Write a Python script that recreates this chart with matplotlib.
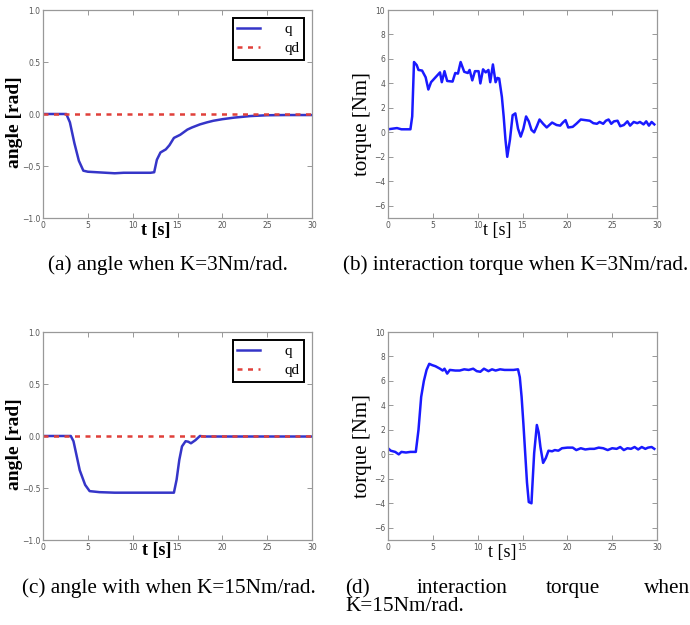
import matplotlib
matplotlib.use("Agg")
import matplotlib.pyplot as plt
import numpy as np

# ---------------- data ----------------
# (a) angle, K=3 Nm/rad
t_a = [0, 1, 2, 2.6, 3.0, 3.5, 4.0, 4.5, 5.0, 6.0, 7.0, 8.0, 9.0, 10.0, 11.0, 12.0, 12.4,
       12.7, 13.1, 13.7, 14.1, 14.6, 15.3, 16.1, 16.6, 17.5, 18.3, 19.0, 20.0, 21.3, 23.1, 25.0, 27.0, 30.0]
q_a = [0, 0, 0, 0, -0.08, -0.28, -0.45, -0.545, -0.555, -0.56, -0.565, -0.57, -0.565, -0.565, -0.565, -0.565, -0.56,
       -0.44, -0.37, -0.34, -0.30, -0.23, -0.20, -0.15, -0.13, -0.10, -0.08, -0.065, -0.05, -0.035, -0.02, -0.012, -0.01, -0.01]
qd_a = [0.0, 0.0]
t_qd = [0, 30]

# (b) torque, K=3 Nm/rad
t_b = [0, 0.5, 1, 1.5, 2, 2.5, 2.7, 2.9, 3.2, 3.4, 3.8, 4.2, 4.5, 4.8, 5.3, 5.8, 6.0, 6.3, 6.6, 7.2, 7.5,
       7.8, 8.1, 8.5, 8.9, 9.1, 9.4, 9.7, 10.1, 10.3, 10.6, 10.9, 11.2, 11.4, 11.7, 12.0, 12.2, 12.4, 12.7,
       12.9, 13.1, 13.3, 13.6, 13.9, 14.2, 14.5, 14.8, 15.1, 15.4, 15.7, 16.0, 16.3, 16.6, 16.9, 17.3, 17.7,
       18.0, 18.3, 18.8, 19.2, 19.5, 19.8, 20.1, 20.6, 21.0, 21.5, 22.0, 22.5, 22.9, 23.3, 23.6, 24.0, 24.3,
       24.6, 24.9, 25.2, 25.6, 25.9, 26.3, 26.7, 27.0, 27.4, 27.8, 28.1, 28.5, 28.8, 29.1, 29.4, 29.7]
tau_b = [0.25, 0.3, 0.35, 0.25, 0.25, 0.25, 1.3, 5.75, 5.5, 5.1, 5.05, 4.5, 3.5, 4.1, 4.5, 4.9, 4.1, 5.0, 4.2, 4.15, 4.85,
         4.8, 5.75, 4.95, 4.85, 5.1, 4.25, 5.0, 5.0, 4.0, 5.15, 4.9, 5.1, 4.1, 5.55, 4.1, 4.45, 4.4, 2.9,
         1.3, -0.6, -2.0, -0.6, 1.4, 1.55, 0.3, -0.35, 0.3, 1.3, 0.9, 0.2, 0.0, 0.5, 1.05, 0.7, 0.4,
         0.6, 0.8, 0.6, 0.55, 0.8, 1.0, 0.4, 0.45, 0.7, 1.05, 1.0, 0.95, 0.75, 0.7, 0.85, 0.7, 0.95,
         1.05, 0.7, 0.9, 0.95, 0.5, 0.6, 0.9, 0.55, 0.85, 0.75, 0.85, 0.65, 0.9, 0.55, 0.85, 0.65]

# (c) angle, K=15 Nm/rad
t_c = [0, 1, 2, 3.1, 3.4, 3.7, 4.1, 4.7, 5.2, 6.3, 8.0, 10.0, 12.0, 14.0, 14.6, 14.9, 15.2, 15.5, 15.9,
       16.2, 16.5, 17.0, 17.5, 18.0, 20.0, 22.0, 25.0, 28.0, 30.0]
q_c = [0, 0, 0, 0, -0.05, -0.17, -0.33, -0.47, -0.53, -0.54, -0.545, -0.545, -0.545, -0.545, -0.545, -0.42, -0.23, -0.10, -0.05,
       -0.055, -0.07, -0.04, 0.0, -0.005, -0.005, -0.005, -0.005, -0.005, -0.005]
qd_c = [0.0, 0.0]

# (d) torque, K=15 Nm/rad
t_d = [0, 0.3, 0.8, 1.2, 1.5, 2.0, 2.5, 3.1, 3.4, 3.7, 4.0, 4.3, 4.6, 4.9, 5.3, 5.8, 6.1, 6.3, 6.6, 6.9,
       7.5, 8.0, 8.5, 9.0, 9.5, 9.9, 10.3, 10.7, 11.2, 11.6, 12.0, 12.5, 13.0, 13.5, 14.0, 14.5, 14.7, 14.9,
       15.1, 15.3, 15.5, 15.7, 16.0, 16.1, 16.3, 16.6, 16.8, 17.0, 17.3, 17.6, 17.9, 18.3, 18.6, 19.0, 19.4,
       20.0, 20.6, 21.0, 21.5, 22.0, 22.5, 23.0, 23.5, 24.0, 24.5, 25.0, 25.5, 25.9, 26.3, 26.7, 27.1, 27.5,
       27.9, 28.3, 28.7, 29.0, 29.4, 29.7]
tau_d = [0.5, 0.3, 0.2, 0.0, 0.2, 0.15, 0.2, 0.2, 2.0, 4.7, 6.0, 6.9, 7.4, 7.3, 7.2, 7.0, 6.85, 7.0, 6.6, 6.9,
         6.85, 6.85, 6.95, 6.9, 7.0, 6.8, 6.75, 7.0, 6.8, 6.95, 6.85, 6.95, 6.9, 6.9, 6.9, 6.95, 6.3, 4.7,
         2.5, 0.1, -2.3, -3.9, -4.0, -2.6, 0.1, 2.4, 1.8, 0.6, -0.7, -0.3, 0.3, 0.25, 0.35, 0.3, 0.5,
         0.55, 0.55, 0.35, 0.5, 0.4, 0.45, 0.45, 0.55, 0.5, 0.35, 0.5, 0.45, 0.6, 0.35, 0.5, 0.45, 0.6,
         0.4, 0.6, 0.45, 0.55, 0.6, 0.45]

x_ticks = [0, 5, 10, 15, 20, 25, 30]
angle_ticks = [-1.0, -0.5, 0.0, 0.5, 1.0]
torque_ticks = [-6, -4, -2, 0, 2, 4, 6, 8, 10]
captions = ["(a) angle when K=3Nm/rad.",
            "(b) interaction torque when K=3Nm/rad.",
            "(c) angle with when K=15Nm/rad."]
caption_d_words = ["(d)", "interaction", "torque", "when"]
caption_d_line2 = "K=15Nm/rad."

# ---------------- figure ----------------
W, H = 690, 625
fig = plt.figure(figsize=(W / 100, H / 100), dpi=100)
SERIF = ["Liberation Serif", "DejaVu Serif"]


def ax_rect(x0, y0, x1, y1):
    return [x0 / W, 1 - y1 / H, (x1 - x0) / W, (y1 - y0) / H]


def style(ax, yticks, ylim, ylabels):
    ax.set_xlim(0, 30)
    ax.set_ylim(*ylim)
    ax.set_xticks(x_ticks)
    ax.set_yticks(yticks)
    ax.set_yticklabels(ylabels)
    ax.tick_params(direction="in", top=True, right=True, length=3.5, width=0.6,
                   labelsize=5.5, labelcolor="#555555", color="#888888", pad=2)
    for s in ax.spines.values():
        s.set_color("#999999")
        s.set_linewidth(0.9)


def fmt_angle(v):
    return ("\u2212" if v < 0 else "") + f"{abs(v):.1f}"


def fmt_torque(v):
    return ("\u2212" if v < 0 else "") + f"{abs(v):d}"


angle_lbls = [fmt_angle(v) for v in angle_ticks]
torque_lbls = [fmt_torque(v) for v in torque_ticks]

axa = fig.add_axes(ax_rect(43, 10, 312, 218))
axb = fig.add_axes(ax_rect(388, 10, 657, 218))
axc = fig.add_axes(ax_rect(43, 332, 312, 540))
axd = fig.add_axes(ax_rect(388, 332, 657, 540))

QCOL = "#3535c8"
RCOL = "#e0403a"
for ax, t, q, qd in [(axa, t_a, q_a, qd_a), (axc, t_c, q_c, qd_c)]:
    ax.plot(t, q, color=QCOL, lw=1.8, label="q", solid_joinstyle="round")
    ax.plot(t_qd, qd, color=RCOL, lw=1.8, ls=(0, (2.0, 2.2)), label="qd")
    style(ax, angle_ticks, (-1.0, 1.0), angle_lbls)
    leg = ax.legend(loc="upper right", prop={"family": SERIF, "size": 11},
                    fancybox=False, framealpha=1, edgecolor="black",
                    handlelength=1.5, handletextpad=1.6, borderpad=0.3,
                    labelspacing=0.35, borderaxespad=0.5)
    leg.get_frame().set_linewidth(1.4)

for ax, t, tau in [(axb, t_b, tau_b), (axd, t_d, tau_d)]:
    ax.plot(t, tau, color="#1a1aff", lw=1.8, solid_joinstyle="round")
    style(ax, torque_ticks, (-7, 10), torque_lbls)

# axis labels
def ftext(x, y, s, **kw):
    fig.text(x / W, 1 - y / H, s, family=SERIF, ha="center", va="center", **kw)

ftext(15, 122, "angle [rad]", rotation=90, size=14, weight="bold")
ftext(15, 444, "angle [rad]", rotation=90, size=14, weight="bold")
ftext(363, 124, "torque [Nm]", rotation=90, size=15)
ftext(363, 446, "torque [Nm]", rotation=90, size=15)
ftext(156, 230, "t [s]", size=13, weight="bold")
ftext(157, 551, "t [s]", size=13, weight="bold")
ftext(497, 231, "t [s]", size=13)
ftext(502, 553, "t [s]", size=13)

# captions
def cap(x, y, s, ha="left"):
    fig.text(x / W, 1 - y / H, s, family=SERIF, size=15.3, ha=ha, va="baseline")

cap(48, 270, captions[0])
cap(343, 270, captions[1])
cap(22, 593, captions[2])
cap(345, 593, caption_d_words[0])
cap(417, 593, caption_d_words[1])
cap(546, 593, caption_d_words[2])
cap(690, 593, caption_d_words[3], ha="right")
cap(345, 611, caption_d_line2)

fig.savefig("out.png", dpi=100)
